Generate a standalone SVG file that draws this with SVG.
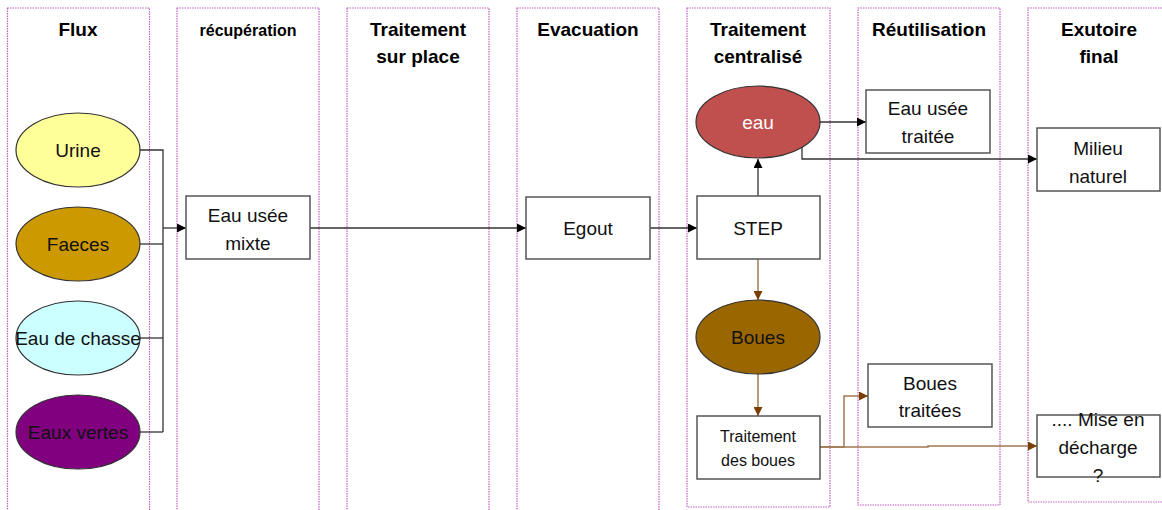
<svg xmlns="http://www.w3.org/2000/svg" width="1162" height="510" viewBox="0 0 1162 510">
<style>
.col{fill:none;stroke:#c060c0;stroke-width:1.2;stroke-dasharray:1.5 1}
.hd{font-family:"Liberation Sans",Arial,sans-serif;font-weight:bold;font-size:19px;fill:#000;text-anchor:middle}
.tx{font-family:"Liberation Sans",Arial,sans-serif;font-size:19px;fill:#111;text-anchor:middle}
.sm{font-size:16px}
.box{fill:#fff;stroke:#555;stroke-width:1.5}
.ell{stroke:#333;stroke-width:1.2}
.ln{fill:none;stroke:#333;stroke-width:1.3}
.br{fill:none;stroke:#a07850;stroke-width:1.5}
</style>
<defs>
<marker id="ah" viewBox="0 0 10 10" refX="10" refY="5" markerWidth="9" markerHeight="9" markerUnits="userSpaceOnUse" orient="auto"><path d="M0,0L10,5L0,10z" fill="#000"/></marker>
<marker id="ahb" viewBox="0 0 10 10" refX="10" refY="5" markerWidth="9" markerHeight="9" markerUnits="userSpaceOnUse" orient="auto"><path d="M0,0L10,5L0,10z" fill="#7a3f00"/></marker>
</defs>
<rect width="1162" height="510" fill="#fff"/>
<g id="columns">
<rect class="col" x="7.5" y="8" width="142" height="510"/>
<rect class="col" x="177" y="8" width="142" height="510"/>
<rect class="col" x="347" y="8" width="142" height="510"/>
<rect class="col" x="517" y="8" width="142" height="510"/>
<rect class="col" x="687" y="8" width="143" height="499"/>
<rect class="col" x="858" y="8" width="142" height="497"/>
<rect class="col" x="1028" y="8" width="145" height="494"/>
<text class="hd" x="78" y="36">Flux</text>
<text class="hd" x="248" y="36" style="font-size:16px">récupération</text>
<text class="hd" x="418" y="36">Traitement</text>
<text class="hd" x="418" y="63">sur place</text>
<text class="hd" x="588" y="36">Evacuation</text>
<text class="hd" x="758" y="36">Traitement</text>
<text class="hd" x="758" y="63">centralisé</text>
<text class="hd" x="929" y="36">Réutilisation</text>
<text class="hd" x="1099" y="36">Exutoire</text>
<text class="hd" x="1099" y="63">final</text>
</g>
<g id="connectors">
<path class="ln" d="M139,150H163V432"/>
<path class="ln" d="M139,244H163"/>
<path class="ln" d="M139,338H163"/>
<path class="ln" d="M139,432H163"/>
<path class="ln" d="M163,228H186" marker-end="url(#ah)"/>
<path class="ln" d="M310,228H526" marker-end="url(#ah)"/>
<path class="ln" d="M650,228H697" marker-end="url(#ah)"/>
<path class="ln" d="M758,196V159" marker-end="url(#ah)"/>
<path class="ln" d="M820,122H866" marker-end="url(#ah)"/>
<path class="ln" d="M802,143V159H1037" marker-end="url(#ah)"/>
<path class="br" d="M758,259V300" marker-end="url(#ahb)"/>
<path class="br" d="M758,374V416" marker-end="url(#ahb)"/>
<path class="br" d="M820,447H844V396H868" marker-end="url(#ahb)"/>
<path class="br" d="M820,447H928V446H1037" marker-end="url(#ahb)"/>
</g>
<g id="urine"><ellipse class="ell" cx="78" cy="150" rx="62" ry="37" fill="#ffff99"/><text class="tx" x="78" y="157">Urine</text></g>
<g id="faeces"><ellipse class="ell" cx="78" cy="244" rx="62" ry="37" fill="#cc9900"/><text class="tx" x="78" y="251">Faeces</text></g>
<g id="eau-de-chasse"><ellipse class="ell" cx="78" cy="338" rx="62" ry="37" fill="#ccffff"/><text class="tx" x="78" y="345">Eau de chasse</text></g>
<g id="eaux-vertes"><ellipse class="ell" cx="78" cy="432" rx="62" ry="37" fill="#800080"/><text class="tx" x="78" y="439">Eaux vertes</text></g>
<g id="eau-usee-mixte"><rect class="box" x="186" y="196" width="124" height="63"/><text class="tx" x="248" y="222">Eau usée</text><text class="tx" x="248" y="250">mixte</text></g>
<g id="egout"><rect class="box" x="526" y="197" width="124" height="62"/><text class="tx" x="588" y="235">Egout</text></g>
<g id="step"><rect class="box" x="697" y="196" width="123" height="63"/><text class="tx" x="758" y="235">STEP</text></g>
<g id="eau"><ellipse class="ell" cx="758" cy="122" rx="62" ry="36" fill="#c0504d"/><text class="tx" x="758" y="129" style="fill:#fff">eau</text></g>
<g id="boues"><ellipse class="ell" cx="758" cy="337" rx="62" ry="37" fill="#996600"/><text class="tx" x="758" y="344">Boues</text></g>
<g id="traitement-des-boues"><rect class="box" x="697" y="416" width="123" height="63"/><text class="tx sm" x="758" y="442">Traitement</text><text class="tx sm" x="758" y="466">des boues</text></g>
<g id="eau-usee-traitee"><rect class="box" x="866" y="90" width="124" height="63"/><text class="tx" x="928" y="115">Eau usée</text><text class="tx" x="928" y="143">traitée</text></g>
<g id="boues-traitees"><rect class="box" x="868" y="364" width="124" height="63"/><text class="tx" x="930" y="390">Boues</text><text class="tx" x="930" y="417">traitées</text></g>
<g id="milieu-naturel"><rect class="box" x="1037" y="128" width="123" height="63"/><text class="tx" x="1098" y="155">Milieu</text><text class="tx" x="1098" y="183">naturel</text></g>
<g id="mise-en-decharge"><rect class="box" x="1037" y="415" width="123" height="62"/><text class="tx" x="1098" y="426">.... Mise en</text><text class="tx" x="1098" y="454">décharge</text><text class="tx" x="1098" y="482">?</text></g>
</svg>
